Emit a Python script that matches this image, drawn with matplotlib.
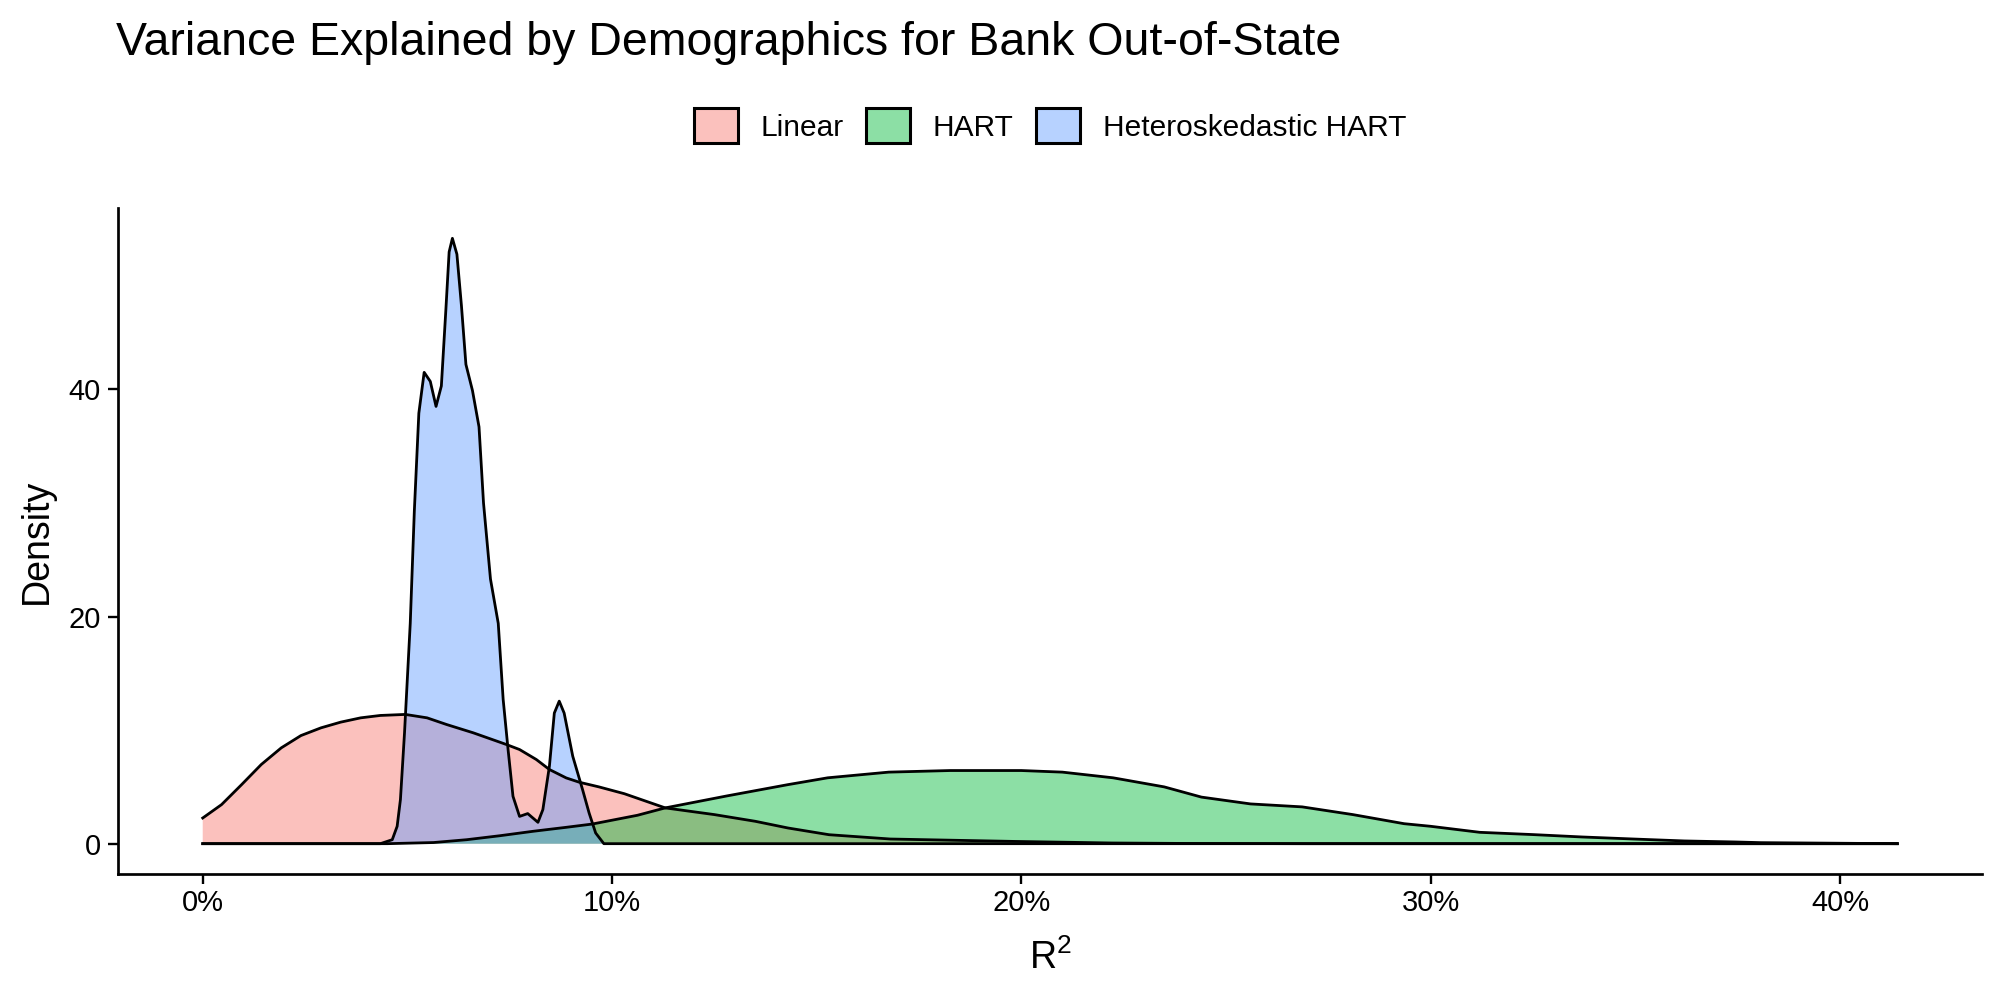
import numpy as np
import matplotlib.pyplot as plt
from matplotlib.patches import Patch
from matplotlib.colors import to_rgba

plt.rcParams['font.family'] = ['Liberation Sans', 'DejaVu Sans']
plt.rcParams['mathtext.fontset'] = 'custom'
plt.rcParams['mathtext.rm'] = 'Liberation Sans'
plt.rcParams['mathtext.it'] = 'Liberation Sans'

# density curves (x in %)
lin_x = [0, 0.46, 0.95, 1.43, 1.92, 2.4, 2.89, 3.37, 3.86, 4.34, 4.95, 5.48, 5.96, 6.61,
         7.42, 7.74, 8.15, 8.47, 8.88, 9.2, 9.68, 10.3, 11.3, 12.5, 13.5, 14.3, 15.3, 16.8,
         18.5, 19.8, 21.2, 22.2, 24, 27, 41.4]
lin_y = [2.26, 3.44, 5.2, 6.97, 8.44, 9.52, 10.2, 10.7, 11.08, 11.29, 11.38, 11.08, 10.49, 9.76,
         8.73, 8.29, 7.41, 6.53, 5.79, 5.41, 5.0, 4.4, 3.15, 2.56, 1.97, 1.38, 0.79, 0.41,
         0.29, 0.2, 0.12, 0.06, 0.02, 0, 0]

hart_x = [0, 4.51, 5.64, 6.45, 7.26, 8.07, 8.88, 9.52, 10.62, 11.3, 12.8, 14.3, 15.27, 16.76,
          18.26, 20.0, 21.0, 22.24, 23.49, 24.4, 25.6, 26.86, 28.1, 29.35, 30.0, 31.2, 32.5,
          33.7, 34.96, 36.2, 37.45, 38.07, 41.4]
hart_y = [0, 0, 0.1, 0.35, 0.7, 1.09, 1.44, 1.73, 2.5, 3.15, 4.2, 5.2, 5.8, 6.3,
          6.44, 6.44, 6.3, 5.8, 5.0, 4.1, 3.5, 3.24, 2.56, 1.76, 1.53, 1.0, 0.8,
          0.59, 0.41, 0.24, 0.15, 0.09, 0]

het_x = [0, 4.34, 4.63, 4.75, 4.83, 4.93, 5.07, 5.17, 5.28, 5.41, 5.56, 5.7, 5.83, 5.94,
         6.02, 6.1, 6.21, 6.32, 6.43, 6.59, 6.75, 6.86, 7.03, 7.22, 7.34, 7.46, 7.58, 7.74,
         7.94, 8.19, 8.31, 8.47, 8.59, 8.71, 8.83, 9.04, 9.28, 9.44, 9.6, 9.8, 41.4]
het_y = [0, 0, 0.35, 1.53, 3.88, 9.76, 19.4, 29.3, 37.9, 41.5, 40.7, 38.5, 40.3, 47,
         52.1, 53.3, 51.9, 47.4, 42.2, 39.9, 36.7, 30.0, 23.3, 19.4, 12.7, 8.29, 4.17, 2.4,
         2.65, 1.88, 3.0, 6.82, 11.5, 12.55, 11.5, 7.7, 4.76, 2.7, 0.94, 0, 0]

labels = ['Linear', 'HART', 'Heteroskedastic HART']
colors = ['#F8766D', '#00BA38', '#619CFF']
x_ticks = [0, 10, 20, 30, 40]
y_ticks = [0, 20, 40]

fig = plt.figure(figsize=(20, 10), dpi=100)
ax = fig.add_axes([0.059, 0.126, 0.932, 0.666])

series = [(lin_x, lin_y), (hart_x, hart_y), (het_x, het_y)]
for (xs, ys), lab, col in zip(series, labels, colors):
    ax.fill_between(xs, 0, ys, facecolor=col, alpha=0.45, edgecolor='none')
    ax.plot(xs, ys, color='black', lw=2, solid_joinstyle='round')

ax.set_xlim(-2.07, 43.47)
ax.set_ylim(-2.67, 55.97)
ax.set_xticks(x_ticks)
ax.set_xticklabels([f'{v}%' for v in x_ticks])
ax.set_yticks(y_ticks)
for s in ['top', 'right']:
    ax.spines[s].set_visible(False)
for s in ['left', 'bottom']:
    ax.spines[s].set_linewidth(1.95)
ax.tick_params(axis='both', length=7, width=1.7, labelsize=21, colors='black')
ax.tick_params(axis='x', pad=3.5)
ax.tick_params(axis='y', pad=5.5)

ax.set_xlabel(r'$\mathrm{R}^2$', fontsize=27)
ax.xaxis.label.set_va('baseline')
ax.xaxis.set_label_coords(0.5, -0.1426)
ax.set_ylabel('Density', fontsize=27)
ax.yaxis.set_label_coords(-0.0338, 0.5)

handles = [Patch(facecolor=to_rgba(c, 0.45), edgecolor='black', lw=2.2) for c in colors]
ax.legend(handles, labels, ncol=3, frameon=False, loc='center',
          bbox_to_anchor=(0.5, 1.1236), fontsize=21.5, handlelength=1.47, handleheight=1.44,
          columnspacing=0.75, handletextpad=0.77, borderpad=0)

fig.text(0.058, 0.945, 'Variance Explained by Demographics for Bank Out-of-State',
         fontsize=33.5, va='baseline', ha='left')

fig.savefig('out.png', dpi=100)
